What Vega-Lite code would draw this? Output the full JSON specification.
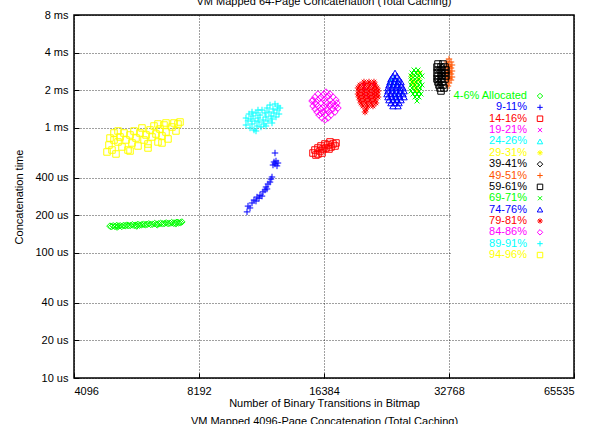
{
"$schema": "https://vega.github.io/schema/vega-lite/v6.json",
"width": 500, "height": 363,
"autosize": {"type": "none"},
"padding": {"left": 74, "top": 15, "right": 29, "bottom": 46},
"background": "white",
"title": {"text": "VM Mapped 64-Page Concatenation (Total Caching)", "fontSize": 11, "font": "Liberation Sans", "fontWeight": "normal", "baseline": "alphabetic", "offset": -7, "anchor": "middle", "color": "black"},
"config": {
  "font": "Liberation Sans",
  "view": {"stroke": "black", "strokeWidth": 1.5},
  "axis": {"labelFont": "Liberation Sans", "labelFontSize": 11, "labelColor": "black", "titleFont": "Liberation Sans", "titleFontSize": 11, "titleFontWeight": "normal", "titleColor": "black", "domain": false, "grid": true, "gridColor": "black", "gridOpacity": 0.75, "gridDash": [1, 2], "gridWidth": 1, "tickColor": "black", "tickSize": -5, "tickWidth": 1}
},
"datasets": {"pts": [
{"s":"4-6% Allocated","x":5000,"y":164},{"s":"4-6% Allocated","x":5040,"y":162},{"s":"4-6% Allocated","x":5090,"y":165},{"s":"4-6% Allocated","x":5140,"y":163},{"s":"4-6% Allocated","x":5190,"y":166},{"s":"4-6% Allocated","x":5240,"y":164},{"s":"4-6% Allocated","x":5290,"y":165},{"s":"4-6% Allocated","x":5340,"y":163},{"s":"4-6% Allocated","x":5390,"y":166},{"s":"4-6% Allocated","x":5440,"y":165},{"s":"4-6% Allocated","x":5490,"y":167},{"s":"4-6% Allocated","x":5540,"y":165},{"s":"4-6% Allocated","x":5600,"y":166},{"s":"4-6% Allocated","x":5660,"y":168},{"s":"4-6% Allocated","x":5720,"y":166},{"s":"4-6% Allocated","x":5780,"y":167},{"s":"4-6% Allocated","x":5840,"y":169},{"s":"4-6% Allocated","x":5900,"y":167},{"s":"4-6% Allocated","x":5960,"y":168},{"s":"4-6% Allocated","x":6020,"y":170},{"s":"4-6% Allocated","x":6080,"y":168},{"s":"4-6% Allocated","x":6140,"y":169},{"s":"4-6% Allocated","x":6200,"y":171},{"s":"4-6% Allocated","x":6270,"y":169},{"s":"4-6% Allocated","x":6340,"y":170},{"s":"4-6% Allocated","x":6410,"y":172},{"s":"4-6% Allocated","x":6480,"y":170},{"s":"4-6% Allocated","x":6550,"y":171},{"s":"4-6% Allocated","x":6620,"y":173},{"s":"4-6% Allocated","x":6690,"y":171},{"s":"4-6% Allocated","x":6760,"y":172},{"s":"4-6% Allocated","x":6830,"y":174},{"s":"4-6% Allocated","x":6900,"y":172},{"s":"4-6% Allocated","x":6970,"y":173},{"s":"4-6% Allocated","x":7040,"y":175},{"s":"4-6% Allocated","x":7110,"y":173},{"s":"4-6% Allocated","x":7180,"y":174},{"s":"4-6% Allocated","x":7250,"y":176},{"s":"4-6% Allocated","x":7320,"y":174},{"s":"4-6% Allocated","x":7390,"y":175},{"s":"4-6% Allocated","x":7450,"y":177},{"s":"4-6% Allocated","x":7200,"y":171},{"s":"4-6% Allocated","x":6500,"y":168},{"s":"4-6% Allocated","x":5800,"y":164},{"s":"4-6% Allocated","x":5200,"y":161},
{"s":"9-11%","x":10691,"y":213},{"s":"9-11%","x":10749,"y":237},{"s":"9-11%","x":10870,"y":229},{"s":"9-11%","x":10991,"y":251},{"s":"9-11%","x":11113,"y":265},{"s":"9-11%","x":11238,"y":260},{"s":"9-11%","x":11300,"y":280},{"s":"9-11%","x":11427,"y":274},{"s":"9-11%","x":11490,"y":290},{"s":"9-11%","x":11617,"y":285},{"s":"9-11%","x":11682,"y":308},{"s":"9-11%","x":11813,"y":319},{"s":"9-11%","x":11878,"y":337},{"s":"9-11%","x":11944,"y":325},{"s":"9-11%","x":12010,"y":356},{"s":"9-11%","x":12145,"y":369},{"s":"9-11%","x":12212,"y":390},{"s":"9-11%","x":12280,"y":405},{"s":"9-11%","x":12348,"y":505},{"s":"9-11%","x":12417,"y":534},{"s":"9-11%","x":12486,"y":515},{"s":"9-11%","x":12555,"y":544},{"s":"9-11%","x":12625,"y":497},{"s":"9-11%","x":12694,"y":524},{"s":"9-11%","x":12486,"y":630},
{"s":"14-16%","x":15414,"y":630},{"s":"14-16%","x":15585,"y":666},{"s":"14-16%","x":15671,"y":607},{"s":"14-16%","x":15846,"y":691},{"s":"14-16%","x":16025,"y":654},{"s":"14-16%","x":16115,"y":717},{"s":"14-16%","x":16295,"y":678},{"s":"14-16%","x":16474,"y":744},{"s":"14-16%","x":16566,"y":691},{"s":"14-16%","x":16752,"y":730},{"s":"14-16%","x":16939,"y":772},{"s":"14-16%","x":17032,"y":704},{"s":"14-16%","x":17223,"y":744},{"s":"14-16%","x":17414,"y":717},{"s":"14-16%","x":17510,"y":758},{"s":"14-16%","x":16205,"y":630},{"s":"14-16%","x":15846,"y":619},{"s":"14-16%","x":16845,"y":678},
{"s":"19-21%","x":20567,"y":2086},{"s":"19-21%","x":21028,"y":1974},{"s":"19-21%","x":20450,"y":1867},{"s":"19-21%","x":21497,"y":2204},{"s":"19-21%","x":20911,"y":1767},{"s":"19-21%","x":20337,"y":2204},{"s":"19-21%","x":21616,"y":1867},{"s":"19-21%","x":21144,"y":1672},
{"s":"24-26%","x":24153,"y":2462},{"s":"24-26%","x":24560,"y":2204},{"s":"24-26%","x":23886,"y":2086},{"s":"24-26%","x":24973,"y":1974},{"s":"24-26%","x":24291,"y":1867},{"s":"24-26%","x":23754,"y":2330},{"s":"24-26%","x":24695,"y":2330},{"s":"24-26%","x":24424,"y":1767},
{"s":"29-31%","x":26690,"y":2602},{"s":"29-31%","x":27137,"y":2330},{"s":"29-31%","x":27595,"y":2462},{"s":"29-31%","x":27290,"y":2086},{"s":"29-31%","x":26987,"y":2204},{"s":"29-31%","x":27747,"y":2749},{"s":"29-31%","x":27443,"y":1974},{"s":"29-31%","x":26839,"y":2330},
{"s":"39-41%","x":30830,"y":2906},{"s":"39-41%","x":31347,"y":2602},{"s":"39-41%","x":31697,"y":2749},{"s":"39-41%","x":31000,"y":2330},{"s":"39-41%","x":31522,"y":3071},{"s":"39-41%","x":30660,"y":2462},{"s":"39-41%","x":31173,"y":2204},{"s":"39-41%","x":31872,"y":2602},
{"s":"49-51%","x":32768,"y":3557},{"s":"49-51%","x":32407,"y":3367},{"s":"49-51%","x":33132,"y":3367},{"s":"49-51%","x":32588,"y":3186},{"s":"49-51%","x":33316,"y":3186},{"s":"49-51%","x":32407,"y":3014},{"s":"49-51%","x":33132,"y":3014},{"s":"49-51%","x":32588,"y":2852},{"s":"49-51%","x":33316,"y":2852},{"s":"49-51%","x":32407,"y":2700},{"s":"49-51%","x":33132,"y":2700},{"s":"49-51%","x":32588,"y":2554},{"s":"49-51%","x":33316,"y":2554},{"s":"49-51%","x":32407,"y":2416},{"s":"49-51%","x":33132,"y":2416},{"s":"49-51%","x":32768,"y":2287},{"s":"49-51%","x":32588,"y":2164},{"s":"49-51%","x":32768,"y":3100},{"s":"49-51%","x":32768,"y":2780},{"s":"49-51%","x":32768,"y":2480},
{"s":"59-61%","x":30830,"y":3245},{"s":"59-61%","x":31697,"y":3245},{"s":"59-61%","x":30660,"y":3071},{"s":"59-61%","x":31347,"y":3071},{"s":"59-61%","x":32050,"y":3071},{"s":"59-61%","x":30830,"y":2906},{"s":"59-61%","x":31522,"y":2906},{"s":"59-61%","x":32226,"y":2906},{"s":"59-61%","x":30660,"y":2749},{"s":"59-61%","x":31347,"y":2749},{"s":"59-61%","x":32050,"y":2749},{"s":"59-61%","x":30830,"y":2602},{"s":"59-61%","x":31522,"y":2602},{"s":"59-61%","x":32226,"y":2602},{"s":"59-61%","x":30660,"y":2462},{"s":"59-61%","x":31347,"y":2462},{"s":"59-61%","x":32050,"y":2462},{"s":"59-61%","x":30830,"y":2330},{"s":"59-61%","x":31522,"y":2330},{"s":"59-61%","x":31000,"y":2204},{"s":"59-61%","x":31697,"y":2204},{"s":"59-61%","x":31173,"y":2086},{"s":"59-61%","x":31872,"y":2086},{"s":"59-61%","x":31347,"y":1974},
{"s":"69-71%","x":26987,"y":2906},{"s":"69-71%","x":27595,"y":2906},{"s":"69-71%","x":26690,"y":2749},{"s":"69-71%","x":27290,"y":2749},{"s":"69-71%","x":27899,"y":2749},{"s":"69-71%","x":26543,"y":2602},{"s":"69-71%","x":27137,"y":2602},{"s":"69-71%","x":27747,"y":2602},{"s":"69-71%","x":28213,"y":2602},{"s":"69-71%","x":26543,"y":2462},{"s":"69-71%","x":27137,"y":2462},{"s":"69-71%","x":27747,"y":2462},{"s":"69-71%","x":26690,"y":2330},{"s":"69-71%","x":27290,"y":2330},{"s":"69-71%","x":27899,"y":2330},{"s":"69-71%","x":26543,"y":2204},{"s":"69-71%","x":27137,"y":2204},{"s":"69-71%","x":27747,"y":2204},{"s":"69-71%","x":28213,"y":2204},{"s":"69-71%","x":26690,"y":2086},{"s":"69-71%","x":27290,"y":2086},{"s":"69-71%","x":27899,"y":2086},{"s":"69-71%","x":26543,"y":1974},{"s":"69-71%","x":27137,"y":1974},{"s":"69-71%","x":27747,"y":1974},{"s":"69-71%","x":26839,"y":1867},{"s":"69-71%","x":27443,"y":1867},{"s":"69-71%","x":28057,"y":1867},{"s":"69-71%","x":27137,"y":1767},{"s":"69-71%","x":27747,"y":1767},{"s":"69-71%","x":27443,"y":1642},
{"s":"74-76%","x":24291,"y":2749},{"s":"74-76%","x":24018,"y":2602},{"s":"74-76%","x":24560,"y":2602},{"s":"74-76%","x":23754,"y":2462},{"s":"74-76%","x":24291,"y":2462},{"s":"74-76%","x":24834,"y":2462},{"s":"74-76%","x":23622,"y":2330},{"s":"74-76%","x":24153,"y":2330},{"s":"74-76%","x":24695,"y":2330},{"s":"74-76%","x":25111,"y":2330},{"s":"74-76%","x":23492,"y":2204},{"s":"74-76%","x":24018,"y":2204},{"s":"74-76%","x":24560,"y":2204},{"s":"74-76%","x":25111,"y":2204},{"s":"74-76%","x":23362,"y":2086},{"s":"74-76%","x":23886,"y":2086},{"s":"74-76%","x":24424,"y":2086},{"s":"74-76%","x":24973,"y":2086},{"s":"74-76%","x":25391,"y":2086},{"s":"74-76%","x":23362,"y":1974},{"s":"74-76%","x":23886,"y":1974},{"s":"74-76%","x":24424,"y":1974},{"s":"74-76%","x":24973,"y":1974},{"s":"74-76%","x":25534,"y":1974},{"s":"74-76%","x":23233,"y":1867},{"s":"74-76%","x":23754,"y":1867},{"s":"74-76%","x":24291,"y":1867},{"s":"74-76%","x":24834,"y":1867},{"s":"74-76%","x":25391,"y":1867},{"s":"74-76%","x":23362,"y":1767},{"s":"74-76%","x":23886,"y":1767},{"s":"74-76%","x":24424,"y":1767},{"s":"74-76%","x":24973,"y":1767},{"s":"74-76%","x":25534,"y":1767},{"s":"74-76%","x":23492,"y":1672},{"s":"74-76%","x":24018,"y":1672},{"s":"74-76%","x":24560,"y":1672},{"s":"74-76%","x":25111,"y":1672},{"s":"74-76%","x":23754,"y":1583},{"s":"74-76%","x":24291,"y":1583},{"s":"74-76%","x":24834,"y":1583},{"s":"74-76%","x":24018,"y":1497},{"s":"74-76%","x":24695,"y":1497},
{"s":"79-81%","x":20450,"y":2330},{"s":"79-81%","x":21028,"y":2330},{"s":"79-81%","x":21616,"y":2330},{"s":"79-81%","x":20003,"y":2204},{"s":"79-81%","x":20567,"y":2204},{"s":"79-81%","x":21144,"y":2204},{"s":"79-81%","x":21740,"y":2204},{"s":"79-81%","x":19783,"y":2086},{"s":"79-81%","x":20337,"y":2086},{"s":"79-81%","x":20911,"y":2086},{"s":"79-81%","x":21497,"y":2086},{"s":"79-81%","x":21979,"y":2086},{"s":"79-81%","x":19893,"y":1974},{"s":"79-81%","x":20450,"y":1974},{"s":"79-81%","x":21028,"y":1974},{"s":"79-81%","x":21616,"y":1974},{"s":"79-81%","x":22105,"y":1974},{"s":"79-81%","x":19783,"y":1867},{"s":"79-81%","x":20337,"y":1867},{"s":"79-81%","x":20911,"y":1867},{"s":"79-81%","x":21497,"y":1867},{"s":"79-81%","x":21979,"y":1867},{"s":"79-81%","x":19893,"y":1767},{"s":"79-81%","x":20450,"y":1767},{"s":"79-81%","x":21028,"y":1767},{"s":"79-81%","x":21616,"y":1767},{"s":"79-81%","x":22105,"y":1767},{"s":"79-81%","x":20003,"y":1672},{"s":"79-81%","x":20567,"y":1672},{"s":"79-81%","x":21144,"y":1672},{"s":"79-81%","x":21740,"y":1672},{"s":"79-81%","x":20114,"y":1583},{"s":"79-81%","x":20680,"y":1583},{"s":"79-81%","x":21261,"y":1583},{"s":"79-81%","x":21856,"y":1583},{"s":"79-81%","x":20337,"y":1497},{"s":"79-81%","x":20911,"y":1497},{"s":"79-81%","x":21497,"y":1497},{"s":"79-81%","x":20680,"y":1417},{"s":"79-81%","x":20567,"y":1341},
{"s":"84-86%","x":15846,"y":1867},{"s":"84-86%","x":16384,"y":1867},{"s":"84-86%","x":16939,"y":1867},{"s":"84-86%","x":15585,"y":1767},{"s":"84-86%","x":16115,"y":1767},{"s":"84-86%","x":16659,"y":1767},{"s":"84-86%","x":17223,"y":1767},{"s":"84-86%","x":15414,"y":1672},{"s":"84-86%","x":15846,"y":1672},{"s":"84-86%","x":16384,"y":1672},{"s":"84-86%","x":16939,"y":1672},{"s":"84-86%","x":17510,"y":1672},{"s":"84-86%","x":15585,"y":1583},{"s":"84-86%","x":16115,"y":1583},{"s":"84-86%","x":16659,"y":1583},{"s":"84-86%","x":17223,"y":1583},{"s":"84-86%","x":17609,"y":1583},{"s":"84-86%","x":15414,"y":1497},{"s":"84-86%","x":15846,"y":1497},{"s":"84-86%","x":16384,"y":1497},{"s":"84-86%","x":16939,"y":1497},{"s":"84-86%","x":17510,"y":1497},{"s":"84-86%","x":15585,"y":1417},{"s":"84-86%","x":16115,"y":1417},{"s":"84-86%","x":16659,"y":1417},{"s":"84-86%","x":17223,"y":1417},{"s":"84-86%","x":15758,"y":1341},{"s":"84-86%","x":16295,"y":1341},{"s":"84-86%","x":16845,"y":1341},{"s":"84-86%","x":17414,"y":1341},{"s":"84-86%","x":15936,"y":1268},{"s":"84-86%","x":16474,"y":1268},{"s":"84-86%","x":17032,"y":1268},{"s":"84-86%","x":16205,"y":1200},{"s":"84-86%","x":16752,"y":1200},{"s":"84-86%","x":16566,"y":1937},{"s":"84-86%","x":15328,"y":1642},{"s":"84-86%","x":17705,"y":1443},{"s":"84-86%","x":16474,"y":1157},{"s":"84-86%","x":16000,"y":1720},{"s":"84-86%","x":16520,"y":1620},{"s":"84-86%","x":17000,"y":1540},{"s":"84-86%","x":16250,"y":1450},{"s":"84-86%","x":15700,"y":1540},{"s":"84-86%","x":17300,"y":1500},{"s":"84-86%","x":16800,"y":1800},{"s":"84-86%","x":16100,"y":1300},{"s":"84-86%","x":16700,"y":1380},
{"s":"89-91%","x":10630,"y":1200},{"s":"89-91%","x":10630,"y":1055},{"s":"89-91%","x":10749,"y":1136},{"s":"89-91%","x":10809,"y":1292},{"s":"89-91%","x":10870,"y":999},{"s":"89-91%","x":10930,"y":1178},{"s":"89-91%","x":10991,"y":1075},{"s":"89-91%","x":11052,"y":1246},{"s":"89-91%","x":11113,"y":963},{"s":"89-91%","x":11174,"y":1136},{"s":"89-91%","x":11238,"y":1316},{"s":"89-91%","x":11300,"y":1036},{"s":"89-91%","x":11362,"y":1200},{"s":"89-91%","x":11427,"y":1115},{"s":"89-91%","x":11490,"y":1268},{"s":"89-91%","x":11553,"y":1017},{"s":"89-91%","x":11617,"y":1391},{"s":"89-91%","x":11682,"y":1157},{"s":"89-91%","x":11747,"y":1075},{"s":"89-91%","x":11813,"y":1316},{"s":"89-91%","x":11878,"y":1223},{"s":"89-91%","x":11944,"y":1443},{"s":"89-91%","x":12010,"y":1136},{"s":"89-91%","x":12077,"y":1341},{"s":"89-91%","x":12145,"y":1525},{"s":"89-91%","x":12212,"y":1246},{"s":"89-91%","x":12280,"y":1178},{"s":"89-91%","x":12348,"y":1417},{"s":"89-91%","x":12417,"y":1316},{"s":"89-91%","x":12486,"y":1554},{"s":"89-91%","x":12555,"y":1223},{"s":"89-91%","x":12625,"y":1391},{"s":"89-91%","x":12694,"y":1497},{"s":"89-91%","x":12766,"y":1292},{"s":"89-91%","x":12838,"y":1443},{"s":"89-91%","x":11362,"y":1391},{"s":"89-91%","x":10991,"y":1341},{"s":"89-91%","x":11878,"y":1036},{"s":"89-91%","x":12280,"y":1095},{"s":"89-91%","x":11238,"y":945},
{"s":"94-96%","x":4919,"y":642},{"s":"94-96%","x":4973,"y":730},{"s":"94-96%","x":5001,"y":830},{"s":"94-96%","x":5057,"y":666},{"s":"94-96%","x":5113,"y":911},{"s":"94-96%","x":5170,"y":619},{"s":"94-96%","x":5228,"y":772},{"s":"94-96%","x":5286,"y":846},{"s":"94-96%","x":5345,"y":704},{"s":"94-96%","x":5405,"y":911},{"s":"94-96%","x":5465,"y":801},{"s":"94-96%","x":5526,"y":666},{"s":"94-96%","x":5588,"y":878},{"s":"94-96%","x":5650,"y":758},{"s":"94-96%","x":5713,"y":945},{"s":"94-96%","x":5777,"y":830},{"s":"94-96%","x":5841,"y":717},{"s":"94-96%","x":5906,"y":911},{"s":"94-96%","x":5972,"y":999},{"s":"94-96%","x":6039,"y":801},{"s":"94-96%","x":6106,"y":878},{"s":"94-96%","x":6174,"y":744},{"s":"94-96%","x":6243,"y":963},{"s":"94-96%","x":6313,"y":846},{"s":"94-96%","x":6383,"y":1036},{"s":"94-96%","x":6454,"y":894},{"s":"94-96%","x":6526,"y":772},{"s":"94-96%","x":6599,"y":980},{"s":"94-96%","x":6672,"y":862},{"s":"94-96%","x":6747,"y":1055},{"s":"94-96%","x":6822,"y":928},{"s":"94-96%","x":6898,"y":816},{"s":"94-96%","x":7053,"y":1017},{"s":"94-96%","x":7132,"y":1095},{"s":"94-96%","x":7211,"y":945},{"s":"94-96%","x":7291,"y":1075},{"s":"94-96%","x":7373,"y":1115},{"s":"94-96%","x":6526,"y":1075},{"s":"94-96%","x":6822,"y":1095},{"s":"94-96%","x":5113,"y":801},{"s":"94-96%","x":5228,"y":945},{"s":"94-96%","x":5588,"y":654},{"s":"94-96%","x":6174,"y":691},{"s":"94-96%","x":6672,"y":758}
]},
"data": {"name": "pts"},
"mark": {"type": "point", "filled": false, "strokeWidth": 1, "size": 42, "opacity": 1},
"encoding": {
  "x": {"field": "x", "type": "quantitative", "scale": {"type": "log", "base": 2, "domain": [4096, 65535], "nice": false}, "axis": {"values": [4096, 8192, 16384, 32768, 65535], "format": "d", "labelPadding": 12, "titlePadding": 1, "titleLineHeight": 18, "title": ["Number of Binary Transitions in Bitmap", "VM Mapped 4096-Page Concatenation (Total Caching)"]}},
  "y": {"field": "y", "type": "quantitative", "scale": {"type": "log", "domain": [10, 8000], "nice": false}, "axis": {"values": [10, 20, 40, 100, 200, 400, 1000, 2000, 4000, 8000], "labelExpr": "datum.value >= 1000 ? (datum.value / 1000) + ' ms' : datum.value + ' us'", "labelPadding": 11, "title": "Concatenation time", "titlePadding": 10}},
  "color": {"field": "s", "type": "nominal", "sort": null,
    "scale": {"domain": ["4-6% Allocated", "9-11%", "14-16%", "19-21%", "24-26%", "29-31%", "39-41%", "49-51%", "59-61%", "69-71%", "74-76%", "79-81%", "84-86%", "89-91%", "94-96%"],
              "range": ["#00ff00", "#0000ff", "#ff0000", "#ff00ff", "#00ffff", "#ffff00", "#000000", "#ff5500", "#000000", "#00ff00", "#0000ff", "#ff0000", "#ff00ff", "#00ffff", "#ffff00"]},
    "legend": {"title": "\u00a0", "titleOrient": "right", "titlePadding": 26, "titleFontSize": 11, "orient": "none", "legendX": 377, "legendY": 73.5, "padding": 2, "fillColor": "white", "labelAlign": "right", "labelOffset": -18.5, "symbolOffset": 81.5, "labelFontSize": 11, "labelFont": "Liberation Sans", "labelColor": {"expr": "scale('color', datum.value)"}, "symbolSize": 30, "symbolStrokeWidth": 1, "rowPadding": -0.64, "labelLimit": 200}},
  "shape": {"field": "s", "type": "nominal", "sort": null,
    "scale": {"domain": ["4-6% Allocated", "9-11%", "14-16%", "19-21%", "24-26%", "29-31%", "39-41%", "49-51%", "59-61%", "69-71%", "74-76%", "79-81%", "84-86%", "89-91%", "94-96%"],
              "range": ["diamond", "M-1,0L1,0M0,-1L0,1", "square", "M-0.75,-0.75L0.75,0.75M-0.75,0.75L0.75,-0.75", "triangle-up", "M-1,0L1,0M0,-1L0,1M-0.7,-0.7L0.7,0.7M-0.7,0.7L0.7,-0.7", "diamond", "M-1,0L1,0M0,-1L0,1", "square", "M-0.75,-0.75L0.75,0.75M-0.75,0.75L0.75,-0.75", "triangle-up", "M-1,0L1,0M0,-1L0,1M-0.7,-0.7L0.7,0.7M-0.7,0.7L0.7,-0.7", "diamond", "M-1,0L1,0M0,-1L0,1", "square"]}}
}
}
